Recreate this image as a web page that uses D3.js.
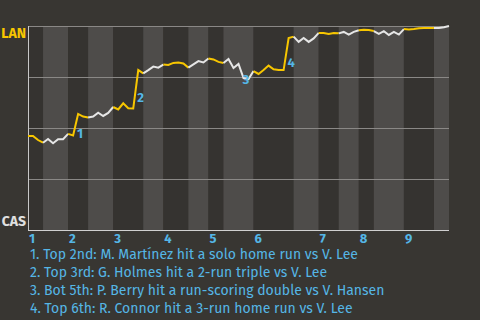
<!DOCTYPE html>
<html>
<head>
<meta charset="utf-8">
<script src="https://cdn.jsdelivr.net/npm/d3@7"></script>
<style>
  body { margin: 0; background: #383632; }
  svg { display: block; overflow: visible; }
  text { font-family: "Fira Sans", Roboto, "Noto Sans", sans-serif; }
</style>
</head>
<body>
<div id="chart"></div>
<script>
// Global Variables
var width = 480, height = 320;
var margin = {top: 26, right: 31, bottom: 90, left: 28};
var innerWidth = width - margin.left - margin.right,
    innerHeight = height - margin.top - margin.bottom;

var teams = ["LAN", "CAS"];

// play index where each half inning starts (top 1st ... bottom 9th)
var halfStarts = [0, 3, 8, 12, 17, 23, 27, 32, 36, 39, 45, 53, 58, 62, 66, 69, 75, 81];
var totalPlays = 84;
var innings = [1, 2, 3, 4, 5, 6, 7, 8, 9];

// LAN win probability (%) after each play
var winProb = [
  46.1, 46.1, 44.1, 42.8, 44.6, 42.5, 44.5, 44.5, 47.1, 46.3,
  56.9, 55.6, 55.2, 55.6, 57.5, 55.9, 57.4, 60.3, 59.1, 62.1,
  59.7, 59.6, 78.4, 76.8, 78.4, 80.1, 79.6, 81.1, 80.9, 81.9,
  82.1, 81.6, 79.6, 81.2, 82.8, 82.1, 84.1, 83.6, 82.4, 81.9,
  83.8, 79.4, 81.4, 74.5, 74.0, 77.9, 76.5, 78.4, 80.6, 78.8,
  78.4, 78.4, 94.1, 94.8, 92.2, 94.1, 92.2, 93.9, 96.6, 96.6,
  96.1, 96.6, 96.4, 97.1, 95.8, 97.1, 97.9, 98.2, 98.0, 97.5,
  96.1, 97.5, 95.6, 97.1, 95.8, 98.5, 98.3, 98.5, 98.9, 99.0,
  99.0, 99.0, 99.0, 99.4, 100
];

// big plays: play index where the swing ends
var bigPlays = [10, 22, 43, 52];
var bigPlayText = [
  "Top 2nd: M. Martínez hit a solo home run vs V. Lee",
  "Top 3rd: G. Holmes hit a 2-run triple vs V. Lee",
  "Bot 5th: P. Berry hit a run-scoring double vs V. Hansen",
  "Top 6th: R. Connor hit a 3-run home run vs V. Lee"
];

var gridTicks = [0, 25, 50, 75, 100];

var colors = {top: "#f7c600", bottom: "#e6e6e6", blue: "#55b6e6"};

var svg = d3.select("#chart").append("svg")
    .attr("width", width)
    .attr("height", height);

var x = d3.scaleLinear().domain([0, totalPlays]).range([margin.left, margin.left + innerWidth]);
var y = d3.scaleLinear().domain([0, 100]).range([margin.top + innerHeight, margin.top]);

var halves = halfStarts.map(function(s, i) {
    return {
        start: s,
        end: i < halfStarts.length - 1 ? halfStarts[i + 1] : totalPlays,
        top: i % 2 == 0,
        inning: Math.floor(i / 2) + 1
    };
});

// background bands
svg.selectAll(".band")
    .data(halves)
    .enter().append("rect")
    .attr("class", "band")
    .attr("x", function(d) { return x(d.start); })
    .attr("width", function(d) { return x(d.end) - x(d.start); })
    .attr("y", y(100))
    .attr("height", y(0) - y(100))
    .attr("fill", function(d) { return d.top ? "#353330" : "#4e4c4a"; });

// gridlines
svg.selectAll(".grid")
    .data(gridTicks.filter(function(t) { return t > 0; }))
    .enter().append("line")
    .attr("class", "grid")
    .attr("x1", x(0))
    .attr("x2", x(totalPlays))
    .attr("y1", function(d) { return Math.round(y(d)) + 0.5; })
    .attr("y2", function(d) { return Math.round(y(d)) + 0.5; })
    .attr("stroke", "#8a8886")
    .attr("stroke-width", 1);

// axes lines
svg.append("line")
    .attr("x1", x(0) + 0.5).attr("x2", x(0) + 0.5)
    .attr("y1", y(100)).attr("y2", y(0) + 1)
    .attr("stroke", "#c8c8c8");
svg.append("line")
    .attr("x1", x(0)).attr("x2", x(totalPlays))
    .attr("y1", y(0) + 0.5).attr("y2", y(0) + 0.5)
    .attr("stroke", "#d0d0d0");

// win probability line, coloured by who is batting
var line = d3.line()
    .x(function(d) { return x(d); })
    .y(function(d) { return y(winProb[d]); });

svg.selectAll(".wp")
    .data(halves)
    .enter().append("path")
    .attr("class", "wp")
    .attr("d", function(d) { return line(d3.range(d.start, d.end + 1)); })
    .attr("fill", "none")
    .attr("stroke", function(d) { return d.top ? colors.top : colors.bottom; })
    .attr("stroke-width", 2)
    .attr("stroke-linejoin", "miter");

// big play markers
svg.selectAll(".bigplay")
    .data(bigPlays)
    .enter().append("text")
    .attr("class", "bigplay")
    .attr("x", function(d) { return x(d) - 1; })
    .attr("y", function(d) { return (y(winProb[d]) + y(winProb[d - 1])) / 2 + 13; })
    .attr("fill", colors.blue)
    .attr("font-size", 13)
    .attr("font-weight", "bold")
    .text(function(d, i) { return i + 1; });

// team labels
svg.append("text")
    .attr("x", 26).attr("y", 38)
    .attr("text-anchor", "end")
    .attr("font-size", 14).attr("font-weight", "bold")
    .attr("fill", colors.top)
    .text(teams[0]);
svg.append("text")
    .attr("x", 26).attr("y", 226)
    .attr("text-anchor", "end")
    .attr("font-size", 14).attr("font-weight", "bold")
    .attr("fill", "#e0e0e0")
    .text(teams[1]);

// inning labels
svg.selectAll(".inning")
    .data(innings)
    .enter().append("text")
    .attr("class", "inning")
    .attr("x", function(d) { return x(halfStarts[(d - 1) * 2]) + 1; })
    .attr("y", 243)
    .attr("font-size", 13)
    .attr("font-weight", "bold")
    .attr("fill", colors.blue)
    .text(function(d) { return d; });

// legend for big plays
svg.selectAll(".legend")
    .data(bigPlayText)
    .enter().append("text")
    .attr("class", "legend")
    .attr("x", 30)
    .attr("y", function(d, i) { return 259 + i * 18; })
    .attr("font-size", 14)
    .attr("fill", colors.blue)
    .text(function(d, i) { return (i + 1) + ". " + d; });
</script>
</body>
</html>
